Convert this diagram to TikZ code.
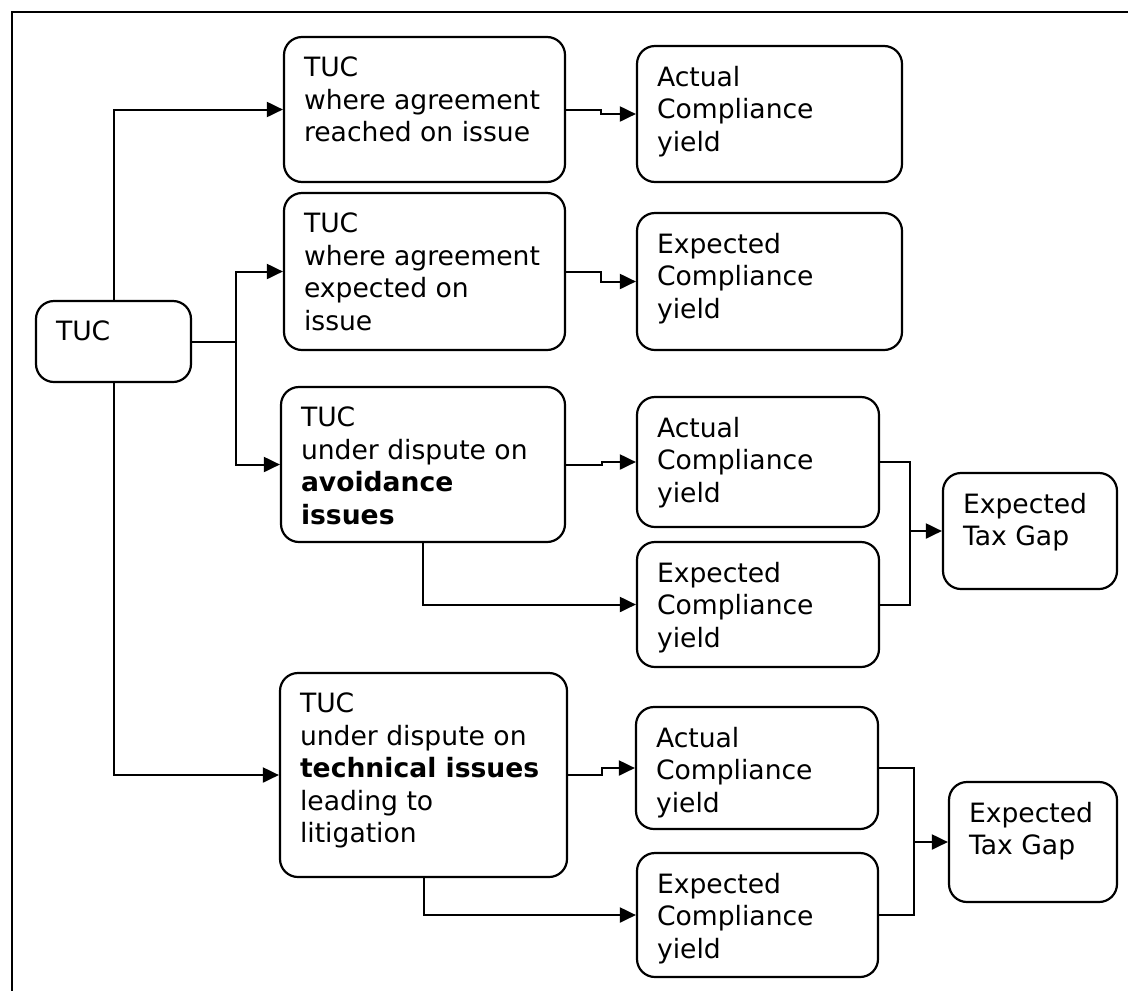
\documentclass[tikz,border=0pt]{standalone}
\usepackage{fontspec}
\setmainfont{DejaVu Sans}
\usetikzlibrary{arrows.meta}

\newcommand{\stagefont}{\fontsize{13.3}{16.25}\selectfont}
% top-left aligned text block of fixed size
\newcommand{\stagetext}[3]{\parbox[c][#2pt][t]{#1pt}{#3}}

\tikzset{
    stage/.style={draw, line width=1.1pt, rounded corners=9pt, inner sep=10pt, font=\stagefont},
    link/.style={line width=1pt},
    conn/.style={line width=1pt, -{Triangle[length=8pt,width=7.5pt]}},
}

\begin{document}
\begin{tikzpicture}[x=0.5pt, y=-0.5pt]
    \useasboundingbox (0,0) rectangle (1128,991);
    \draw [line width=1.1pt] (1128,12) -- (12,12) -- (12,991);

    % first column
    \node [stage] (tuc) at (113.5,341.5) {\stagetext{57.5}{20.5}{TUC}};

    % second column
    \node [stage] (agreed) at (424.5,109.5) {\stagetext{120.5}{52.5}{TUC\\where agreement\\reached on issue}};
    \node [stage] (expect) at (424.5,271.5) {\stagetext{120.5}{58.5}{TUC\\where agreement\\expected on\\issue}};
    \node [stage] (avoid) at (423,464.5) {\stagetext{122}{57.5}{TUC\\under dispute on\\\textbf{avoidance}\\\textbf{issues}}};
    \node [stage] (litig) at (423.5,775) {\stagetext{123.5}{82}{TUC\\under dispute on\\\textbf{technical issues}\\leading to\\litigation}};

    % third column
    \node [stage] (actualA) at (769.5,114) {\stagetext{112.5}{48}{Actual\\Compliance\\yield}};
    \node [stage] (expectA) at (769.5,281.5) {\stagetext{112.5}{48.5}{Expected\\Compliance\\yield}};
    \node [stage] (actualB) at (758,462) {\stagetext{101}{45}{Actual\\Compliance\\yield}};
    \node [stage] (expectB) at (758,604.5) {\stagetext{101}{42.5}{Expected\\Compliance\\yield}};
    \node [stage] (actualC) at (757,768) {\stagetext{101}{41}{Actual\\Compliance\\yield}};
    \node [stage] (expectC) at (757.5,915) {\stagetext{100.5}{42}{Expected\\Compliance\\yield}};

    % tax gap
    \node [stage] (gapB) at (1030,531) {\stagetext{67}{38}{Expected\\Tax Gap}};
    \node [stage] (gapC) at (1033,842) {\stagetext{64}{40}{Expected\\Tax Gap}};

    % from TUC
    \coordinate (split) at (236,341.5);
    \draw [conn] (tuc.north) |- (agreed.west);
    \draw [link] (tuc.east) -- (split);
    \draw [conn] (split) |- (expect.west);
    \draw [conn] (split) |- (avoid.west);
    \draw [conn] (tuc.south) |- (litig.west);

    % to yields
    \draw [conn] (agreed.east) -- ++(35,0) |- (actualA.west);
    \draw [conn] (expect.east) -- ++(35,0) |- (expectA.west);
    \draw [conn] (avoid.east) -- ++(36,0) |- (actualB.west);
    \draw [conn] (avoid.south) |- (expectB.west);
    \draw [conn] (litig.east) -- ++(34,0) |- (actualC.west);
    \draw [conn] (litig.south) |- (expectC.west);

    % to tax gap
    \draw [link] (actualB.east) -- ++(30,0) coordinate (mergeB) |- (expectB.east);
    \draw [conn] (mergeB |- gapB.west) -- (gapB.west);
    \draw [link] (actualC.east) -- ++(35,0) coordinate (mergeC) |- (expectC.east);
    \draw [conn] (mergeC |- gapC.west) -- (gapC.west);
\end{tikzpicture}
\end{document}
